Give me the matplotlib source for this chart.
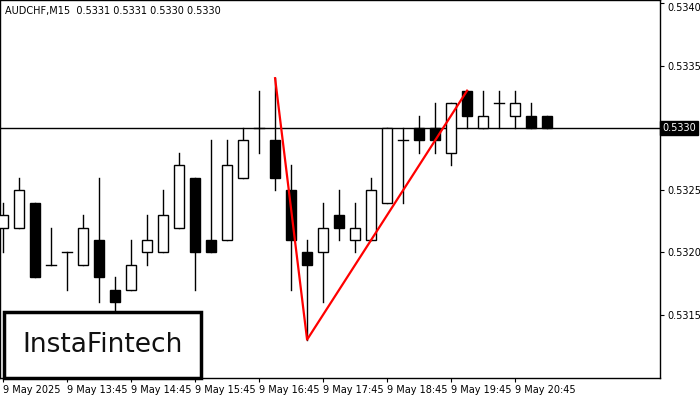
import matplotlib
matplotlib.use("Agg")
import matplotlib.pyplot as plt
from matplotlib.patches import Rectangle
import numpy as np

# prices in units of 1e-4 (5330 -> 0.5330)
opens = [5322, 5322, 5324, 5319, 5320, 5319, 5321, 5317, 5317, 5320, 5320, 5322, 5326, 5321, 5321, 5326, 5330, 5329,
         5325, 5320, 5320, 5323, 5321, 5321, 5324, 5329, 5330, 5330, 5328, 5333, 5330, 5332, 5331, 5331, 5331]
closes = [5323, 5325, 5318, 5319, 5320, 5322, 5318, 5316, 5319, 5321, 5323, 5327, 5320, 5320, 5327, 5329, 5330, 5326,
          5321, 5319, 5322, 5322, 5322, 5325, 5330, 5329, 5329, 5329, 5332, 5331, 5331, 5332, 5332, 5330, 5330]
highs = [5324, 5326, 5324, 5322, 5320, 5323, 5326, 5318, 5321, 5323, 5325, 5328, 5326, 5329, 5329, 5330, 5333, 5334,
         5327, 5321, 5324, 5325, 5324, 5326, 5330, 5330, 5331, 5332, 5332, 5333, 5333, 5333, 5333, 5332, 5331]
lows = [5320, 5322, 5318, 5319, 5317, 5319, 5316, 5313, 5317, 5319, 5320, 5322, 5317, 5320, 5321, 5326, 5328, 5325,
        5317, 5313, 5316, 5321, 5320, 5321, 5324, 5324, 5328, 5328, 5327, 5330, 5330, 5330, 5330, 5330, 5330]
tick_idx = [0, 4, 8, 12, 16, 20, 24, 28, 32]
tick_labels = ["9 May 2025", "9 May 13:45", "9 May 14:45", "9 May 15:45", "9 May 16:45",
               "9 May 17:45", "9 May 18:45", "9 May 19:45", "9 May 20:45"]
price_ticks = [5315, 5320, 5325, 5330, 5335, 5340]
pattern_idx = [17, 19, 29]   # high, low, high
current = 5330

s = 1e-4
fig = plt.figure(figsize=(7, 4), dpi=100)
ax = fig.add_axes([0.0, 0.055, 0.943, 0.945])
ax.set_xlim(-0.19, 41.06)
ax.set_ylim(5309.92 * s, 5340.28 * s)

w = 0.6
for i, (o, c, h, l) in enumerate(zip(opens, closes, highs, lows)):
    ax.plot([i, i], [l * s, h * s], color="black", lw=1, zorder=2)
    lo, hi = min(o, c), max(o, c)
    if o == c:
        ax.plot([i - w / 2, i + w / 2], [o * s, o * s], color="black", lw=1, zorder=3)
    else:
        face = "black" if c < o else "white"
        ax.add_patch(Rectangle((i - w / 2, lo * s), w, (hi - lo) * s, facecolor=face,
                               edgecolor="black", lw=1, zorder=3))

ax.axhline(current * s, color="black", lw=1, zorder=1)

px = pattern_idx
py = [highs[px[0]] * s, lows[px[1]] * s, highs[px[2]] * s]
ax.plot(px, py, color="red", lw=1.6, zorder=4)

ax.yaxis.tick_right()
ax.set_yticks([p * s for p in price_ticks])
ax.set_yticklabels(["" if p == current else f"{p * s:.4f}" for p in price_ticks], fontsize=7)
ax.get_yticklabels()[-1].set_va("top")
ax.set_xticks(tick_idx)
ax.set_xticklabels(tick_labels, fontsize=7, ha="left")
ax.tick_params(axis="both", length=3, pad=2)
for sp in ax.spines.values():
    sp.set_linewidth(1)

ax.text(1.003, current * s, f"{current * s:.4f}", transform=ax.get_yaxis_transform(),
        fontsize=7, color="white", va="center", ha="left",
        bbox=dict(boxstyle="square,pad=0.25", fc="black", ec="black"))

fig.text(0.007, 0.985, "AUDCHF,M15  0.5331 0.5331 0.5330 0.5330", fontsize=7, va="top")

logo = Rectangle((0.005, 0.055), 0.282, 0.165, transform=fig.transFigure,
                 facecolor="white", edgecolor="black", lw=2.5, zorder=10)
fig.patches.append(logo)
fig.text(0.146, 0.137, "InstaFintech", fontsize=19, ha="center", va="center", zorder=11,
         family="DejaVu Sans", color="#111111")

fig.savefig("out.png", dpi=100)
